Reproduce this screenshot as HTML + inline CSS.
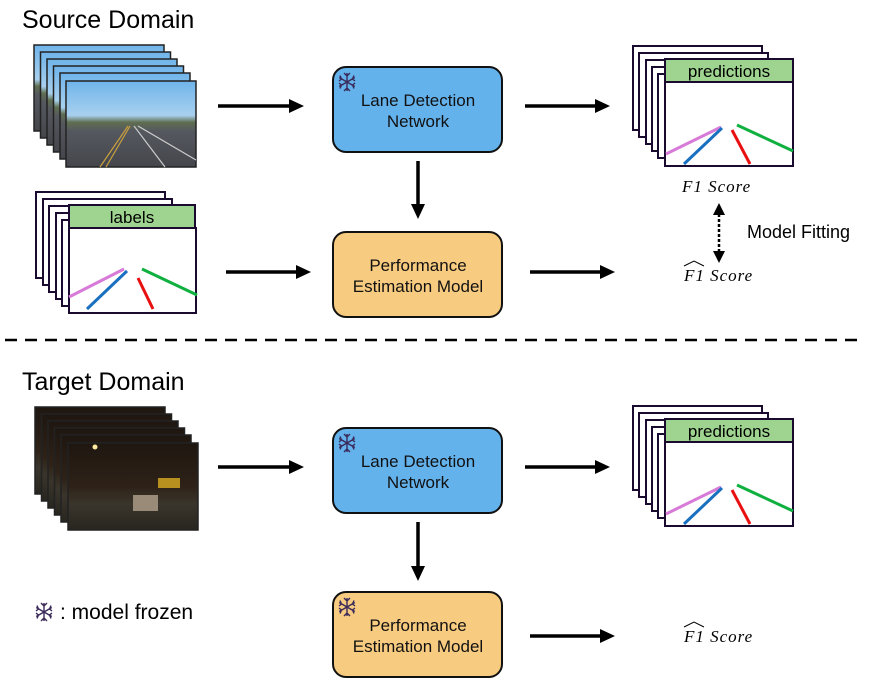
<!DOCTYPE html>
<html><head><meta charset="utf-8"><style>
body{margin:0;background:#fff}
svg{display:block;font-family:"Liberation Sans",sans-serif}
</style></head><body>
<svg width="879" height="692" viewBox="0 0 879 692" xmlns="http://www.w3.org/2000/svg">
<defs>
<linearGradient id="day" x1="0" y1="0" x2="0" y2="1">
<stop offset="0" stop-color="#6fb4ea"/><stop offset="0.4" stop-color="#a8d0ee"/><stop offset="0.48" stop-color="#5f6e50"/><stop offset="0.58" stop-color="#55585e"/><stop offset="1" stop-color="#44464c"/></linearGradient>
<linearGradient id="night" x1="0" y1="0" x2="0" y2="1">
<stop offset="0" stop-color="#1e1610"/><stop offset="0.5" stop-color="#2e2218"/><stop offset="0.7" stop-color="#3a352c"/><stop offset="1" stop-color="#28261f"/></linearGradient>
<g id="snow" stroke="#3a2a5a" stroke-width="1.4" fill="none">
<path d="M0,-9 V9 M-7.8,-4.5 L7.8,4.5 M-7.8,4.5 L7.8,-4.5 M-3,-9 L0,-6 L3,-9 M-3,9 L0,6 L3,9 M-8,-1 L-5.5,-3 L-7,-6.5 M8,1 L5.5,3 L7,6.5 M-8,1 L-5.5,3 L-7,6.5 M8,-1 L5.5,-3 L7,-6.5"/>
</g>
<g id="lanes" stroke-width="3">
<line x1="0" y1="68" x2="55" y2="40" stroke="#d87ad8"/>
<line x1="18" y1="80" x2="58" y2="42" stroke="#1a70c0"/>
<line x1="69" y1="49" x2="84" y2="80" stroke="#e81010"/>
<line x1="73" y1="40" x2="128" y2="66" stroke="#10b040"/>
</g>
</defs>

<text x="22" y="28" font-size="25">Source Domain</text>
<text x="22" y="390" font-size="25">Target Domain</text>

<g stroke="#222" stroke-width="1.5">
<rect x="34" y="45" width="130" height="86" fill="url(#day)"/>
<rect x="40.5" y="52" width="130" height="86" fill="url(#day)"/>
<rect x="47" y="59" width="130" height="86" fill="url(#day)"/>
<rect x="53.5" y="66" width="130" height="86" fill="url(#day)"/>
<rect x="60" y="73" width="130" height="86" fill="url(#day)"/>
<rect x="66" y="81" width="130" height="86" fill="url(#day)"/>
</g>
<path d="M100,167 L128,126 M106,167 L130,126" stroke="#c9a040" stroke-width="1.2"/>
<path d="M165,167 L134,126 M196,160 L138,126" stroke="#ccc" stroke-width="1.2"/>

<g stroke="#222" stroke-width="1.5">
<rect x="35" y="407" width="130" height="87" fill="url(#night)"/>
<rect x="41.5" y="414" width="130" height="87" fill="url(#night)"/>
<rect x="48" y="421" width="130" height="87" fill="url(#night)"/>
<rect x="54.5" y="428" width="130" height="87" fill="url(#night)"/>
<rect x="61" y="435" width="130" height="87" fill="url(#night)"/>
<rect x="68" y="443" width="130" height="87" fill="url(#night)"/>
</g>
<rect x="133" y="495" width="25" height="16" fill="#9a8a78"/>
<circle cx="95" cy="447" r="2.5" fill="#ffe8a0"/>
<rect x="158" y="478" width="22" height="10" fill="#b89020"/>

<g stroke="#1a0a30" stroke-width="2" fill="#fff">
<rect x="36" y="192" width="129" height="86"/>
<rect x="43" y="199" width="129" height="86"/>
<rect x="49" y="206" width="129" height="86"/>
<rect x="56" y="213" width="129" height="86"/>
<rect x="62" y="220" width="129" height="86"/>
<rect x="69" y="228" width="127" height="85"/>
<rect x="69" y="205" width="126" height="23" fill="#9fd490"/>
</g>
<text x="132" y="223" font-size="17" text-anchor="middle">labels</text>
<use href="#lanes" x="69" y="229"/>

<g id="pred">
<g stroke="#1a0a30" stroke-width="2" fill="#fff">
<rect x="633" y="46" width="129" height="84"/>
<rect x="639" y="53" width="129" height="84"/>
<rect x="646" y="60" width="129" height="84"/>
<rect x="652" y="67" width="129" height="84"/>
<rect x="658" y="74" width="129" height="84"/>
<rect x="665" y="82" width="128" height="84"/>
<rect x="665" y="59" width="128" height="23" fill="#9fd490"/>
</g>
<text x="729" y="77" font-size="17" text-anchor="middle">predictions</text>
<g transform="translate(666,84)">
<line x1="0" y1="70" x2="55" y2="43" stroke="#d87ad8" stroke-width="3"/>
<line x1="18" y1="80" x2="56" y2="44" stroke="#1a70c0" stroke-width="3"/>
<line x1="66" y1="46" x2="84" y2="80" stroke="#e81010" stroke-width="3"/>
<line x1="71" y1="41" x2="127" y2="67" stroke="#10b040" stroke-width="3"/>
</g>
</g>
<use href="#pred" x="0" y="360"/>

<g stroke="#111" stroke-width="2">
<rect x="333" y="67" width="169" height="85" rx="13" fill="#64b2ec"/>
<rect x="333" y="232" width="169" height="85" rx="13" fill="#f8cc80"/>
<rect x="333" y="428" width="169" height="85" rx="13" fill="#64b2ec"/>
<rect x="333" y="592" width="169" height="85" rx="13" fill="#f8cc80"/>
</g>
<g font-size="17" text-anchor="middle" fill="#111">
<text x="418" y="106">Lane Detection</text><text x="418" y="127">Network</text>
<text x="418" y="271">Performance</text><text x="418" y="292">Estimation Model</text>
<text x="418" y="467">Lane Detection</text><text x="418" y="488">Network</text>
<text x="418" y="631">Performance</text><text x="418" y="652">Estimation Model</text>
</g>
<use href="#snow" x="347" y="82"/>
<use href="#snow" x="347" y="443"/>
<use href="#snow" x="347" y="607"/>
<use href="#snow" x="44" y="612"/>
<text x="60" y="619" font-size="21">: model frozen</text>

<g stroke="#000" stroke-width="3.5">
<line x1="218" y1="106" x2="292" y2="106"/>
<line x1="525" y1="106" x2="598" y2="106"/>
<line x1="418" y1="161" x2="418" y2="206"/>
<line x1="226" y1="272" x2="298" y2="272"/>
<line x1="530" y1="272" x2="603" y2="272"/>
<line x1="218" y1="467" x2="292" y2="467"/>
<line x1="525" y1="467" x2="598" y2="467"/>
<line x1="418" y1="522" x2="418" y2="568"/>
<line x1="530" y1="636" x2="603" y2="636"/>
</g>
<g fill="#000">
<path d="M289,99 L304,106 L289,113 Z"/>
<path d="M595,99 L610,106 L595,113 Z"/>
<path d="M411,204 L418,219 L425,204 Z"/>
<path d="M296,265 L311,272 L296,279 Z"/>
<path d="M600,265 L615,272 L600,279 Z"/>
<path d="M289,460 L304,467 L289,474 Z"/>
<path d="M595,460 L610,467 L595,474 Z"/>
<path d="M411,566 L418,581 L425,566 Z"/>
<path d="M600,629 L615,636 L600,643 Z"/>
</g>
<line x1="719" y1="214" x2="719" y2="252" stroke="#000" stroke-width="2.5" stroke-dasharray="3,2"/>
<path d="M713,215 L719,203 L725,215 Z M713,251 L719,263 L725,251 Z" fill="#000"/>
<text x="747" y="238" font-size="18">Model Fitting</text>

<line x1="5" y1="340" x2="862" y2="340" stroke="#000" stroke-width="2.5" stroke-dasharray="12,8"/>

<g font-family="Liberation Serif, serif" font-style="italic" font-size="17" letter-spacing="1">
<text x="682" y="192">F1 Score</text>
<text x="684" y="281">F1 Score</text>
<text x="684" y="642">F1 Score</text>
</g>
<path d="M684,266 L694,261 L704,266 M684,627 L694,622 L704,627" stroke="#000" stroke-width="1" fill="none"/>
</svg>
</body></html>
